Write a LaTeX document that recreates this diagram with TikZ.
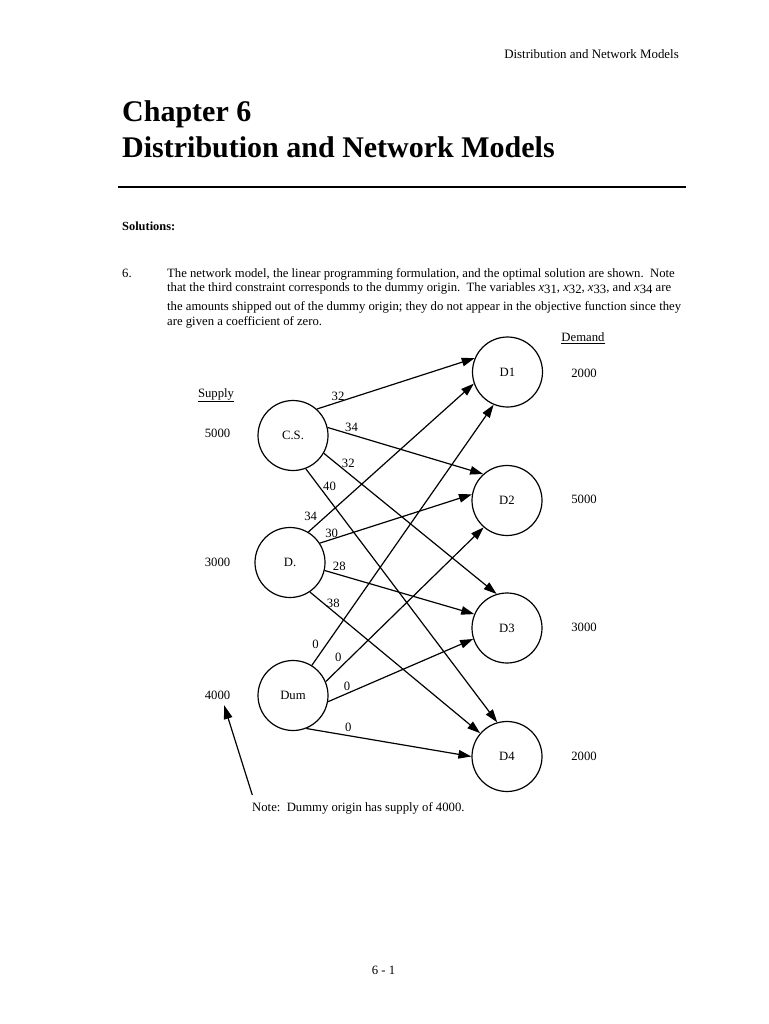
\documentclass[tikz,border=0pt]{standalone}
\usepackage{fontspec}
\setmainfont{Liberation Serif}
\newfontfamily\bodyf{Liberation Serif}
\usetikzlibrary{arrows.meta}
\newcommand\xsub[1]{\textit{x}\raisebox{-2.5pt}{#1}}
\begin{document}
\begin{tikzpicture}[x=1pt,y=-1pt,
  city/.style={circle,draw,line width=1.2pt,minimum size=70pt,inner sep=0pt,font=\bodyf\fontsize{12.7}{15}\selectfont},
  lbl/.style={font=\bodyf\fontsize{12.7}{15}\selectfont,inner sep=0pt},
  flow/.style={line width=1.2pt,-{Triangle[length=13pt,width=8.5pt]}},
  para/.style={font=\bodyf\fontsize{12.7}{15}\selectfont,inner sep=0pt,anchor=base west}]
\useasboundingbox (0,0) rectangle (768,1024);
\fill[white] (0,0) rectangle (768,1024);
% header
\node[anchor=base east,inner sep=0pt,font=\bodyf\fontsize{12.9}{14}\selectfont] (hdr) at (679,59) {Distribution and Network Models};
% title
\node[anchor=base west,inner sep=0pt,font=\bfseries\fontsize{30}{35}\selectfont] (t1) at (122,122) {Chapter 6};
\node[anchor=base west,inner sep=0pt,font=\bfseries\fontsize{30}{35}\selectfont] (t2) at (122,157.5) {Distribution and Network Models};
\coordinate (rl) at (118,187);
\coordinate (rr) at (686,187);
\draw[line width=2.7pt] (rl) -- (rr);
\node[anchor=base west,inner sep=0pt,font=\bodyf\bfseries\fontsize{12.4}{14}\selectfont] (sol) at (122,230) {Solutions:};
% paragraph
\node[para] (num) at (122,277) {6.};
\node[para] (p1) at (167,277) {The network model, the linear programming formulation, and the optimal solution are shown.\ \ Note};
\node[para] (p2) at (167,291) {that the third constraint corresponds to the dummy origin.\ \ The variables \xsub{31}, \xsub{32}, \xsub{33}, and \xsub{34} are};
\node[para] (p3) at (167,310) {the amounts shipped out of the dummy origin; they do not appear in the objective function since they};
\node[para] (p4) at (167,325) {are given a coefficient of zero.};
% network nodes
\node[city] (cs) at (293,435.5) {C.S.};
\node[city] (d) at (290,562.5) {D.};
\node[city] (dum) at (293,695.5) {Dum};
\node[city] (d1) at (507.5,372) {D1};
\node[city] (d2) at (507,500.5) {D2};
\node[city] (d3) at (507,628) {D3};
\node[city] (d4) at (507,756.5) {D4};
% supply / demand
\node[lbl] (sup) at (216,395) {\underline{Supply}};
\node[lbl] (s1) at (217.5,433.5) {5000};
\node[lbl] (s2) at (217.5,562) {3000};
\node[lbl] (s3) at (217.5,695.7) {4000};
\node[lbl] (dem) at (583,338.5) {\underline{Demand}};
\node[lbl] (q1) at (584,373) {2000};
\node[lbl] (q2) at (584,499.5) {5000};
\node[lbl] (q3) at (584,627.5) {3000};
\node[lbl] (q4) at (584,756) {2000};
% arcs
\draw[flow] (cs.48) -- (d1.157);
\draw[flow] (cs.13) -- (d2.132);
\draw[flow] (cs.-30) -- (d3.107);
\draw[flow] (cs.-69) -- (d4.106);
\draw[flow] (d.59) -- (d1.199);
\draw[flow] (d.33) -- (d2.170);
\draw[flow] (d.-13) -- (d3.157);
\draw[flow] (d.-56) -- (d4.139);
\draw[flow] (dum.58) -- (d1.247);
\draw[flow] (dum.23) -- (d2.229);
\draw[flow] (dum.-10) -- (d3.198);
\draw[flow] (dum.-68) -- (d4.180);
% arc costs
\node[lbl] (c11) at (338,396) {32};
\node[lbl] (c12) at (351.5,427.3) {34};
\node[lbl] (c13) at (348.3,463.3) {32};
\node[lbl] (c14) at (329.5,486.5) {40};
\node[lbl] (c21) at (310.7,516) {34};
\node[lbl] (c22) at (331.7,533.5) {30};
\node[lbl] (c23) at (339.3,566.7) {28};
\node[lbl] (c24) at (333.3,603.3) {38};
\node[lbl] (c31) at (315.5,644.5) {0};
\node[lbl] (c32) at (338.3,657) {0};
\node[lbl] (c33) at (347,686.7) {0};
\node[lbl] (c34) at (348.3,727.5) {0};
% note
\node[lbl,anchor=west] (note) at (252,808) {Note:\ \ Dummy origin has supply of 4000.};
\coordinate (ntail) at (252.3,795);
\coordinate (ntip) at (224,705);
\draw[line width=1.2pt,-{Triangle[length=14pt,width=8.5pt]}] (ntail) -- (ntip);
% footer
\node[lbl] (foot) at (383.5,970) {6 - 1};
\end{tikzpicture}
\end{document}
